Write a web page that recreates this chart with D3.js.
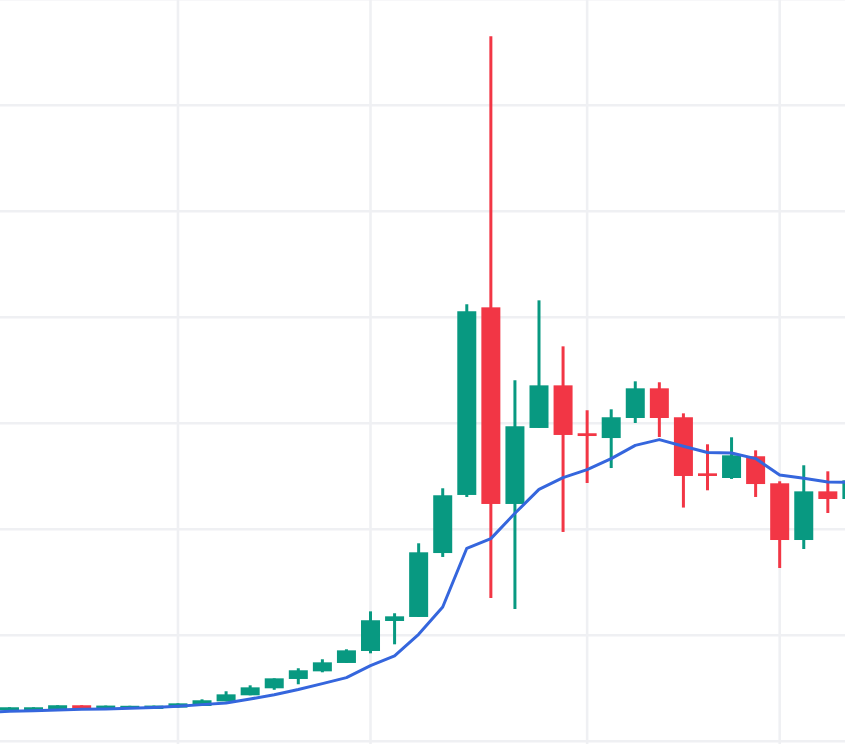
<!DOCTYPE html>
<html>
<head>
<meta charset="utf-8">
<script src="https://cdn.jsdelivr.net/npm/d3@7"></script>
<style>
  html, body { margin: 0; padding: 0; background: #fff; overflow: hidden; }
  svg { display: block; filter: blur(0.35px); }
</style>
</head>
<body>
<div id="chart"></div>
<script>
// candle values, the first candle sits just left of the frame
var open  = [28.0, 29.2, 28.8, 30.5, 34.0, 30.5, 30.7, 30.5, 31.8, 33.3, 37.7, 43.4, 50.0, 58.8, 66.0, 73.9, 85.2, 113.5, 117.3, 177.6, 232.4, 409.4, 223.9, 295.6, 335.8, 290.6, 286.1, 305.0, 333.0, 305.7, 252.8, 248.4, 268.9, 243.4, 189.9, 235.8, 228.6];
var high  = [31.0, 32.1, 32.1, 34.0, 34.0, 33.7, 33.5, 33.7, 35.8, 39.6, 47.2, 52.8, 59.4, 68.9, 77.4, 86.8, 122.6, 120.8, 186.8, 238.7, 412.3, 665.1, 340.6, 416.0, 372.6, 312.3, 313.2, 339.6, 338.7, 309.4, 280.2, 286.8, 274.5, 245.3, 260.4, 254.7, 248.1];
var low   = [28.0, 29.2, 28.8, 30.5, 30.5, 30.5, 30.7, 30.5, 31.8, 33.3, 37.7, 43.4, 48.6, 53.8, 65.1, 73.9, 83.0, 91.5, 117.3, 173.9, 230.5, 135.2, 124.8, 295.6, 197.5, 243.7, 257.8, 300.3, 287.1, 220.5, 236.8, 247.5, 230.5, 163.5, 181.4, 215.4, 228.6];
var close = [29.2, 32.1, 32.1, 34.0, 30.5, 33.7, 33.5, 33.7, 35.8, 38.7, 44.3, 50.9, 59.4, 67.0, 74.5, 85.8, 114.2, 117.9, 178.3, 232.1, 405.7, 223.9, 297.2, 335.8, 289.0, 288.0, 305.7, 333.0, 305.0, 250.3, 250.3, 269.8, 242.7, 189.9, 235.8, 228.6, 246.2];
var ma    = [27.4, 28.3, 28.8, 29.5, 30.2, 30.5, 31.1, 31.8, 33.0, 34.6, 36.1, 39.9, 43.9, 48.8, 54.4, 60.1, 71.4, 80.5, 100.9, 126.7, 182.1, 191.2, 215.1, 237.7, 248.8, 256.3, 266.7, 279.2, 284.6, 278.3, 272.4, 272.0, 266.7, 251.2, 248.1, 244.6, 244.3];

// candle numbers that carry a vertical grid line, price levels with a horizontal one
var gridCandles = [8, 16, 25, 33];
var gridPrices = [0, 100, 200, 300, 400, 500, 600, 700];

var width = 845, height = 744;
var candleWidth = 19;

var x = d3.scaleLinear().domain([0, 36]).range([-14.6, 851.9]);
var y = d3.scaleLinear().domain([0, 700]).range([741.3, -0.7]);

var svg = d3.select("#chart").append("svg")
    .attr("width", width)
    .attr("height", height);

svg.append("rect").attr("width", width).attr("height", height).attr("fill", "#ffffff");

// grid
svg.append("g")
    .call(d3.axisBottom(x).tickValues(gridCandles).tickSize(height).tickFormat("").offset(0));
svg.append("g")
    .call(d3.axisRight(y).tickValues(gridPrices).tickSize(width).tickFormat("").offset(0));
svg.selectAll(".domain").remove();
svg.selectAll(".tick line")
    .attr("stroke", "#eff0f3")
    .attr("stroke-width", 2.6);

// candles
var candles = svg.append("g").selectAll("g")
    .data(open.map(function(d, i) { return i; }))
    .join("g")
    .attr("fill", function(i) { return close[i] >= open[i] ? "#089981" : "#f23645"; })
    .attr("stroke", function(i) { return close[i] >= open[i] ? "#089981" : "#f23645"; });

candles.append("line")
    .attr("x1", function(i) { return x(i); })
    .attr("x2", function(i) { return x(i); })
    .attr("y1", function(i) { return y(high[i]); })
    .attr("y2", function(i) { return y(low[i]); })
    .attr("stroke-width", 3);

candles.append("rect")
    .attr("x", function(i) { return x(i) - candleWidth / 2; })
    .attr("width", candleWidth)
    .attr("y", function(i) { return y(Math.max(open[i], close[i])); })
    .attr("height", function(i) { return Math.abs(y(open[i]) - y(close[i])); })
    .attr("stroke", "none");

// moving average on top
var line = d3.line()
    .x(function(d, i) { return x(i); })
    .y(function(d) { return y(d); });

svg.append("path")
    .datum(ma)
    .attr("d", line)
    .attr("fill", "none")
    .attr("stroke", "#3566dd")
    .attr("stroke-width", 3)
    .attr("stroke-linejoin", "round");
</script>
</body>
</html>
